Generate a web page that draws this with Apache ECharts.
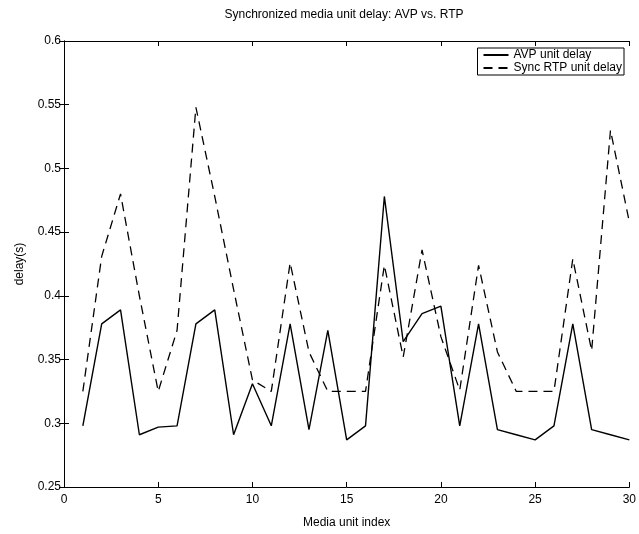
<!DOCTYPE html>
<html>
<head>
<meta charset="utf-8">
<script src="https://cdn.jsdelivr.net/npm/echarts@6/dist/echarts.min.js"></script>
<style>
  html, body { margin: 0; padding: 0; background: #fff; }
  #chart { width: 639px; height: 534px; }
</style>
</head>
<body>
<div id="chart"></div>
<script>
// Media unit indices 1..30
const unitIndex = [1,2,3,4,5,6,7,8,9,10,11,12,13,14,15,16,17,18,19,20,21,22,23,24,25,26,27,28,29,30];

// Per-unit delay in seconds
const avpDelay = [0.298, 0.378, 0.389, 0.291, 0.297, 0.298, 0.378, 0.389, 0.291, 0.331,
                  0.298, 0.378, 0.295, 0.373, 0.287, 0.298, 0.478, 0.364, 0.386, 0.392,
                  0.298, 0.378, 0.295, 0.291, 0.287, 0.298, 0.378, 0.295, 0.291, 0.287];
const rtpDelay = [0.325, 0.431, 0.480, 0.400, 0.325, 0.373, 0.548, 0.478, 0.405, 0.334,
                  0.325, 0.426, 0.356, 0.325, 0.325, 0.325, 0.424, 0.352, 0.436, 0.368,
                  0.326, 0.424, 0.356, 0.325, 0.325, 0.325, 0.429, 0.357, 0.530, 0.458];

const seriesNames = ['AVP unit delay', 'Sync RTP unit delay'];
const xTicks = [0, 30, 5];          // min, max, interval
const yTicks = [0.25, 0.6, 0.05];   // min, max, interval

const FONT = '"Liberation Sans", Arial, Helvetica, sans-serif';

const pairs = (ys) => unitIndex.map((x, i) => [x, ys[i]]);

const baseAxisLine = { show: true, lineStyle: { color: '#000', width: 1 } };
const baseTick = { show: true, inside: true, length: 5, lineStyle: { color: '#000', width: 1 } };

const chart = echarts.init(document.getElementById('chart'), null, { renderer: 'canvas' });
chart.setOption({
  backgroundColor: '#fff',
  animation: false,
  title: {
    text: 'Synchronized media unit delay: AVP vs. RTP',
    left: 344,
    textAlign: 'center',
    top: 9,
    padding: 0,
    textStyle: { fontFamily: FONT, fontSize: 12, fontWeight: 'normal', color: '#000' }
  },
  legend: {
    orient: 'vertical',
    right: 15,
    top: 48,
    data: seriesNames,
    borderColor: '#000',
    borderWidth: 1,
    borderRadius: 0,
    backgroundColor: '#fff',
    padding: [1, 2, 1, 5],
    itemGap: 1,
    itemWidth: 25,
    itemHeight: 12,
    itemStyle: { opacity: 0 },
    textStyle: { fontFamily: FONT, fontSize: 12, color: '#000' }
  },
  grid: { left: 64, right: 8, top: 41, bottom: 47, containLabel: false },
  xAxis: [
    {
      type: 'value', position: 'bottom',
      min: xTicks[0], max: xTicks[1], interval: xTicks[2],
      name: 'Media unit index', nameLocation: 'middle', nameGap: 30,
      nameTextStyle: { fontFamily: FONT, fontSize: 12, color: '#000' },
      axisLine: baseAxisLine, axisTick: baseTick,
      axisLabel: { fontFamily: FONT, fontSize: 12, color: '#000', margin: 7 },
      splitLine: { show: false }
    },
    {
      type: 'value', position: 'top',
      min: xTicks[0], max: xTicks[1], interval: xTicks[2],
      axisLine: baseAxisLine, axisTick: baseTick,
      axisLabel: { show: false }, splitLine: { show: false }
    }
  ],
  yAxis: [
    {
      type: 'value', position: 'left',
      min: yTicks[0], max: yTicks[1], interval: yTicks[2],
      name: 'delay(s)', nameLocation: 'middle', nameGap: 38,
      nameTextStyle: { fontFamily: FONT, fontSize: 12, color: '#000' },
      axisLine: baseAxisLine, axisTick: baseTick,
      axisLabel: { fontFamily: FONT, fontSize: 12, color: '#000', margin: 3 },
      splitLine: { show: false }
    },
    {
      type: 'value', position: 'right',
      min: yTicks[0], max: yTicks[1], interval: yTicks[2],
      axisLine: baseAxisLine, axisTick: baseTick,
      axisLabel: { show: false }, splitLine: { show: false }
    }
  ],
  series: [
    {
      name: seriesNames[0], type: 'line', xAxisIndex: 0, yAxisIndex: 0,
      data: pairs(avpDelay), symbol: 'none',
      lineStyle: { color: '#000', width: 1.4, type: 'solid' },
      itemStyle: { color: '#000' }
    },
    {
      name: seriesNames[1], type: 'line', xAxisIndex: 0, yAxisIndex: 0,
      data: pairs(rtpDelay), symbol: 'none',
      lineStyle: { color: '#000', width: 1.3, type: [9, 6] },
      itemStyle: { color: '#000' }
    }
  ]
});
</script>
</body>
</html>
